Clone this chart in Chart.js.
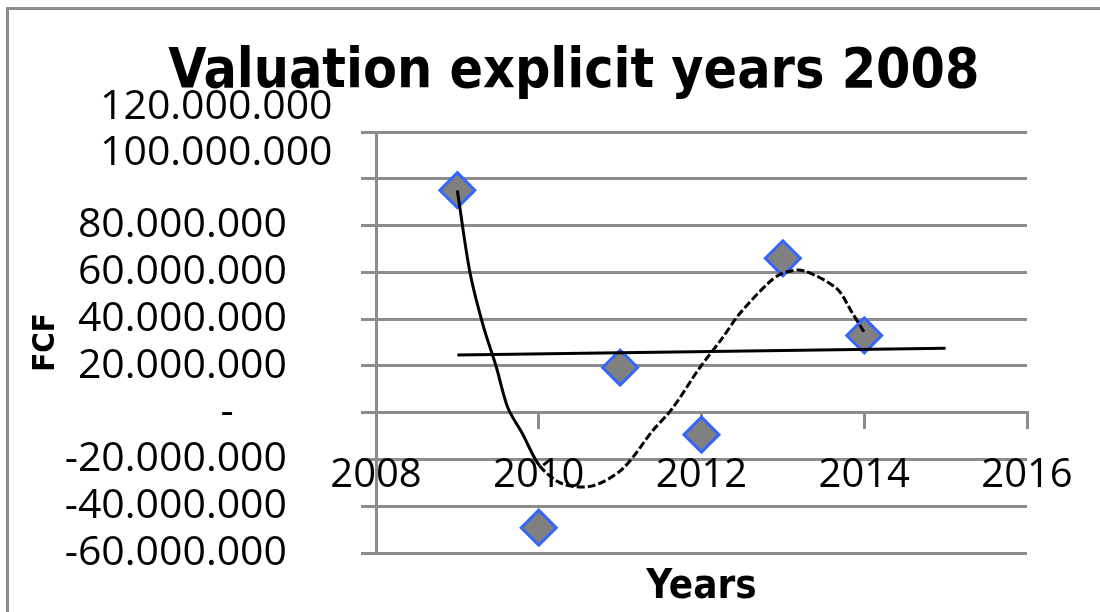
<!DOCTYPE html>
<html>
<head>
<meta charset="utf-8">
<script src="https://cdn.jsdelivr.net/npm/chart.js@4"></script>
<style>
  html, body { margin: 0; padding: 0; background: #fff; overflow: hidden; }
  #wrap { position: relative; width: 1100px; height: 612px; overflow: hidden; }
  #frame { position: absolute; left: 6px; top: 7px; width: 1200px; height: 700px;
           border-left: 3px solid #8c8c8c; border-top: 3px solid #8c8c8c; }
  #chart { position: absolute; left: 0; top: 0; }
</style>
</head>
<body>
<div id="wrap">
  <div id="frame"></div>
  <canvas id="chart" width="1100" height="612"></canvas>
</div>
<script>
// FCF per year
const years = [2009, 2010, 2011, 2012, 2013, 2014];
const fcf = [95100000, -49200000, 19300000, -9400000, 66000000, 33000000];

// polynomial trend curve
const polyYears = [2009.0, 2009.15, 2009.31, 2009.48, 2009.62, 2009.8, 2010.01, 2010.29, 2010.66, 2011.03, 2011.4,
                   2011.64, 2011.98, 2012.26, 2012.47, 2012.83, 2012.99, 2013.24, 2013.66, 2013.85, 2014.0];
const polyFcf = [95000000, 60800000, 38100000, 19300000, 2100000, -9000000, -22700000, -30400000, -31300000, -24000000, -7700000,
                 1700000, 19300000, 32100000, 42400000, 55700000, 59500000, 60800000, 53100000, 42800000, 34300000];

// linear trend line ends
const linYears = [2009, 2015];
const linFcf = [24700000, 27500000];

const yTickLabels = ['-60.000.000', '-40.000.000', '-20.000.000', '-\u00a0\u00a0\u00a0\u00a0\u00a0',
                     '20.000.000', '40.000.000', '60.000.000', '80.000.000', '100.000.000', '120.000.000'];
const xTickLabels = ['2008', '2010', '2012', '2014', '2016'];

const gridGray = '#8c8c8c';
const tickFont = { family: 'Open Sans', size: 41 };
const narrowBold = "'Liberation Sans Narrow', 'DejaVu Sans Condensed', 'Open Sans'";

const toXY = (xs, ys) => xs.map((x, i) => ({ x: x, y: ys[i] }));

new Chart(document.getElementById('chart').getContext('2d'), {
    type: 'scatter',
    data: {
        datasets: [
            {
                label: 'Poly. (FCF)',
                data: toXY(polyYears, polyFcf),
                showLine: true,
                borderColor: '#000',
                borderWidth: 3,
                pointRadius: 0,
                tension: 0.3,
                segment: {
                    borderDash: ctx => ctx.p0.parsed.x >= 2010 ? [8, 3] : undefined
                }
            },
            {
                label: 'Linear (FCF)',
                data: toXY(linYears, linFcf),
                showLine: true,
                borderColor: '#000',
                borderWidth: 3,
                pointRadius: 0
            },
            {
                label: 'FCF',
                data: toXY(years, fcf),
                pointStyle: 'rectRot',
                pointRadius: 17.5,
                pointBackgroundColor: '#808080',
                pointBorderColor: '#3366ff',
                pointBorderWidth: 3
            }
        ]
    },
    options: {
        responsive: false,
        animation: false,
        layout: { padding: { top: 0, left: 0, right: 73, bottom: 59 } },
        plugins: {
            legend: { display: false },
            tooltip: { enabled: false },
            title: {
                display: true,
                // leading spaces push the centred title right, as in the original
                text: '\u00a0\u00a0\u00a0\u00a0\u00a0\u00a0\u00a0Valuation explicit years 2008',
                color: '#000',
                font: { family: narrowBold, size: 55, weight: 'bold', lineHeight: 1.2 },
                padding: { top: 40, bottom: 26 }
            }
        },
        scales: {
            x: {
                type: 'linear',
                min: 2008,
                max: 2016,
                position: { y: 0 },
                grid: { drawOnChartArea: false, color: gridGray, lineWidth: 3, tickLength: 15 },
                border: { display: true, color: gridGray, width: 3 },
                ticks: {
                    stepSize: 2,
                    autoSkip: false,
                    color: '#000',
                    font: { family: 'Open Sans', size: 40 },
                    padding: 24,
                    maxRotation: 0,
                    callback: (v, i) => xTickLabels[i]
                },
                title: {
                    display: true,
                    text: 'Years',
                    color: '#000',
                    font: { family: narrowBold, size: 40, weight: 'bold', lineHeight: 1.2 },
                    padding: { top: 40, bottom: 0 }
                }
            },
            y: {
                min: -60000000,
                max: 120000000,
                position: 'left',
                weight: 0,
                grid: { color: gridGray, lineWidth: 3, tickLength: 15 },
                border: { display: true, color: gridGray, width: 3 },
                ticks: {
                    stepSize: 20000000,
                    autoSkip: false,
                    color: '#000',
                    font: tickFont,
                    mirror: true,
                    padding: -276,
                    labelOffset: -25,
                    callback: (v, i) => i >= 8 ? yTickLabels[i] : ''
                },
                afterFit: s => { s.width = 89; }
            },
            yLabels: {
                min: -60000000,
                max: 120000000,
                position: 'left',
                weight: 10,
                grid: { display: false, drawTicks: false },
                border: { display: false },
                ticks: {
                    stepSize: 20000000,
                    autoSkip: false,
                    color: '#000',
                    font: tickFont,
                    padding: 0,
                    callback: (v, i) => i < 8 ? yTickLabels[i] : ''
                },
                title: {
                    display: true,
                    text: 'FCF',
                    color: '#000',
                    font: { family: narrowBold, size: 31, weight: 'bold', lineHeight: 1.2 },
                    padding: { top: 27, bottom: 0 }
                },
                afterFit: s => { s.width = 287; }
            }
        }
    }
});
</script>
</body>
</html>
